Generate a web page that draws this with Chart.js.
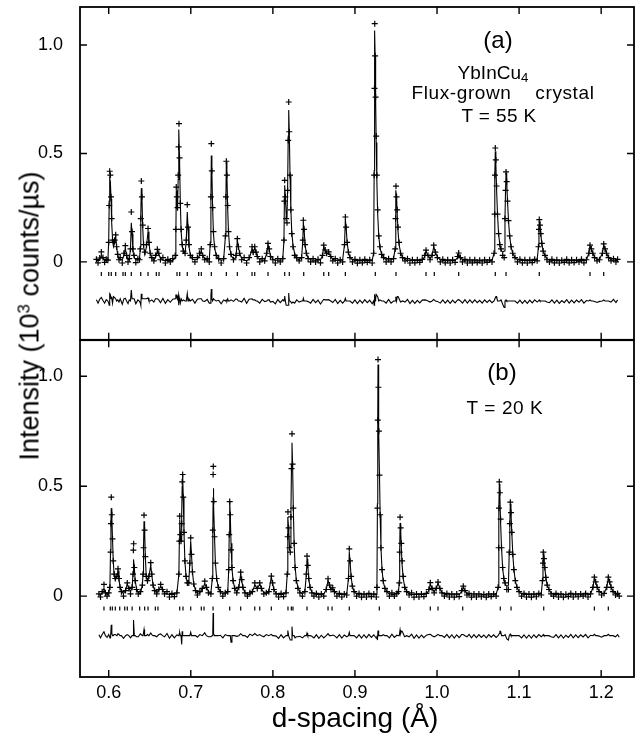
<!DOCTYPE html>
<html>
<head>
<meta charset="utf-8">
<script src="https://cdn.jsdelivr.net/npm/chart.js@4.4.0/dist/chart.umd.min.js"></script>
<style>
  body { margin: 0; background: #fff; }
  #wrap { position: relative; width: 644px; height: 737px; font-family: "Liberation Sans", Arial, sans-serif; color: #000; }
  canvas { position: absolute; left: 0; }
  .lbl { position: absolute; white-space: nowrap; line-height: 1; transform: translateX(-50%); }
  sup { font-size: 0.62em; vertical-align: 0.55em; line-height: 0; }
  sub { font-size: 0.7em; vertical-align: -0.25em; line-height: 0; }
  #ytitle { position: absolute; left: 30px; top: 316px; font-size: 27px; white-space: nowrap; line-height: 1;
            transform: translate(-50%, -50%) rotate(-90deg); }
  #xtitle { position: absolute; left: 355px; top: 704px; font-size: 28px; white-space: nowrap; line-height: 1;
            transform: translateX(-50%); }
</style>
</head>
<body>
<div id="wrap">
  <canvas id="chartA" width="644" height="345" style="top:0"></canvas>
  <canvas id="chartB" width="644" height="402" style="top:335px"></canvas>
  <div class="lbl" style="left:498px; top:28px; font-size:24px;">(a)</div>
  <div class="lbl" style="left:493px; top:63px; font-size:19px;">YbInCu<sub>4</sub></div>
  <div class="lbl" style="left:503px; top:83px; font-size:19px; letter-spacing:0.6px; word-spacing:18px;">Flux-grown crystal</div>
  <div class="lbl" style="left:499px; top:106px; font-size:19px; letter-spacing:0.4px;">T = 55 K</div>
  <div class="lbl" style="left:502px; top:360px; font-size:24px;">(b)</div>
  <div class="lbl" style="left:505px; top:398px; font-size:19px; letter-spacing:0.6px;">T = 20 K</div>
  <div id="ytitle">Intensity (10<sup>3</sup> counts/µs)</div>
  <div id="xtitle">d-spacing (Å)</div>
</div>
<script>
// axis ticks
const xTickVals = [0.6, 0.7, 0.8, 0.9, 1.0, 1.1, 1.2];
const xTickLabels = ['0.6', '0.7', '0.8', '0.9', '1.0', '1.1', '1.2'];
const yTickVals = [0, 0.5, 1.0];
const yTickLabels = ['0', '0.5', '1.0'];

// panel (a), T = 55 K : d-spacing, observed, calculated
const dA = [
  0.585, 0.587, 0.589, 0.591, 0.593, 0.595, 0.597,
  0.599, 0.600, 0.6006, 0.6012, 0.602, 0.6028, 0.6036, 0.6046, 0.6058,
  0.6072, 0.6085, 0.6096, 0.611, 0.6125, 0.614, 0.6165,
  0.6185, 0.6202, 0.6218, 0.6235, 0.625,
  0.6265, 0.6275, 0.6284, 0.6295, 0.631, 0.633, 0.6355, 0.6375,
  0.6385, 0.6391, 0.6397, 0.6405, 0.6414, 0.6425, 0.644, 0.646,
  0.6479, 0.649, 0.6505, 0.6525, 0.655, 0.657, 0.6592, 0.661, 0.663, 0.666, 0.669, 0.672, 0.675, 0.678, 0.681,
  0.6818, 0.6823, 0.683, 0.6838, 0.6846, 0.6851, 0.6856, 0.6863, 0.6872, 0.6882, 0.6895, 0.691,
  0.693, 0.6945, 0.6957, 0.6966, 0.6978, 0.6995, 0.702, 0.705, 0.708, 0.7105, 0.7128, 0.7145, 0.717, 0.72, 0.7225,
  0.7238, 0.7245, 0.725, 0.7257, 0.7266, 0.7276, 0.729, 0.731, 0.734, 0.737, 0.74,
  0.7422, 0.7428, 0.7433, 0.744, 0.7449, 0.7459, 0.7472, 0.749, 0.752, 0.755,
  0.7567, 0.758, 0.7595, 0.762, 0.765, 0.768, 0.771, 0.7746, 0.776, 0.7779, 0.7795, 0.781, 0.784, 0.787, 0.79,
  0.7925, 0.7941, 0.7955, 0.797, 0.8, 0.803, 0.806, 0.809, 0.812,
  0.8135, 0.814, 0.8144, 0.8152, 0.8162, 0.8172, 0.818, 0.8187, 0.8193, 0.82, 0.8209, 0.8219, 0.823, 0.8245, 0.8265, 0.829, 0.832, 0.835,
  0.8365, 0.8371, 0.838, 0.8392, 0.8408, 0.843, 0.846, 0.849, 0.852, 0.855, 0.858,
  0.8605, 0.862, 0.8638, 0.8655, 0.868, 0.8705, 0.873, 0.876, 0.879, 0.882, 0.885,
  0.8873, 0.8883, 0.8892, 0.8905, 0.892, 0.894, 0.897, 0.9, 0.903, 0.906, 0.909, 0.912, 0.915, 0.918, 0.921,
  0.9228, 0.9234, 0.9238, 0.9241, 0.9246, 0.9252, 0.9259, 0.9267, 0.9277, 0.929, 0.9305, 0.9325, 0.935, 0.938, 0.941, 0.944, 0.947,
  0.949, 0.9495, 0.95, 0.9507, 0.9515, 0.9525, 0.9538, 0.9555, 0.958, 0.961, 0.964, 0.967, 0.97, 0.973, 0.976, 0.979, 0.982,
  0.985, 0.9866, 0.989, 0.9915, 0.994, 0.996, 0.998, 1.0005, 1.004, 1.007, 1.01, 1.013, 1.016, 1.019, 1.022,
  1.025, 1.0264, 1.0285, 1.031, 1.034, 1.037, 1.04, 1.043, 1.046, 1.049, 1.052, 1.055, 1.058, 1.061, 1.064, 1.067,
  1.0695, 1.0702, 1.0706, 1.071, 1.0717, 1.0726, 1.0737, 1.075, 1.0765, 1.078, 1.08, 1.0818, 1.0828, 1.0835, 1.0841, 1.0849, 1.0859, 1.0871, 1.0885, 1.0902, 1.0922, 1.095, 1.098, 1.101, 1.104, 1.107, 1.11, 1.113, 1.116, 1.119, 1.122,
  1.1236, 1.1242, 1.1246, 1.1254, 1.1264, 1.1277, 1.1293, 1.1315, 1.134, 1.137, 1.14, 1.143, 1.146, 1.149, 1.152, 1.155, 1.158, 1.161, 1.164, 1.167, 1.17, 1.173, 1.176, 1.179, 1.182,
  1.185, 1.1864, 1.188, 1.1898, 1.192, 1.195, 1.198, 1.2015, 1.2031, 1.2047, 1.2065, 1.209, 1.212, 1.215, 1.218, 1.22
];
const obsA = [
  0.012, -0.004, 0.018, 0.046, 0.02, -0.002, 0.012,
  0.008, 0.09, 0.26, 0.418, 0.40, 0.30, 0.20, 0.10, 0.09,
  0.10, 0.125, 0.07, 0.035, 0.01, 0.02, -0.005,
  0.04, 0.075, 0.03, 0.0, 0.015,
  0.06, 0.23, 0.14, 0.06, 0.03, -0.003, 0.015, 0.01,
  0.06, 0.2, 0.373, 0.3, 0.17, 0.08, 0.045, 0.08,
  0.154, 0.09, 0.04, 0.02, 0.005, 0.03, 0.058, 0.04, 0.01, 0.02, -0.005, 0.012, 0.0, 0.015, 0.03,
  0.15, 0.345, 0.30, 0.25, 0.40, 0.53, 0.637, 0.48, 0.27, 0.15, 0.08, 0.05,
  0.04, 0.1, 0.264, 0.16, 0.08, 0.03, 0.02, 0.0, 0.02, 0.04, 0.06, 0.03, 0.01, 0.015, 0.0,
  0.08, 0.3, 0.545, 0.42, 0.25, 0.14, 0.07, 0.03, 0.015, -0.005, 0.015,
  0.12, 0.3, 0.464, 0.4, 0.26, 0.14, 0.07, 0.035, 0.01, 0.03,
  0.107, 0.07, 0.04, 0.01, 0.02, -0.005, 0.02, 0.07, 0.045, 0.07, 0.045, 0.025, 0.0, 0.015, 0.005,
  0.04, 0.085, 0.06, 0.025, 0.01, -0.005, 0.015, 0.0, 0.015,
  0.1, 0.28, 0.376, 0.3, 0.2, 0.18, 0.33, 0.56, 0.737, 0.6, 0.4, 0.24, 0.13, 0.07, 0.03, 0.02, 0.005, 0.02,
  0.1, 0.192, 0.15, 0.08, 0.04, 0.015, 0.0, 0.015, 0.0, 0.012, -0.004,
  0.03, 0.077, 0.055, 0.04, 0.046, 0.025, 0.005, 0.015, -0.005, 0.01, 0.0,
  0.08, 0.207, 0.16, 0.09, 0.045, 0.02, 0.0, 0.012, -0.006, 0.01, -0.004, 0.012, -0.002, 0.01, -0.005,
  0.04, 0.4, 0.8, 1.098, 0.95, 0.76, 0.58, 0.40, 0.24, 0.12, 0.07, 0.035, 0.02, 0.0, 0.015, 0.0, 0.015,
  0.06, 0.2, 0.349, 0.3, 0.24, 0.16, 0.09, 0.04, 0.02, 0.005, 0.015, -0.005, 0.01, -0.004, 0.01, -0.002, 0.012,
  0.03, 0.054, 0.03, 0.01, 0.03, 0.077, 0.045, 0.02, 0.0, 0.012, -0.004, 0.01, -0.005, 0.01, -0.002,
  0.025, 0.041, 0.02, 0.0, 0.012, -0.005, 0.01, -0.004, 0.01, -0.003, 0.008, -0.005, 0.01, -0.002, 0.01, 0.0,
  0.04, 0.22, 0.4, 0.525, 0.47, 0.35, 0.22, 0.13, 0.08, 0.06, 0.03, 0.02, 0.2, 0.33, 0.415, 0.37, 0.28, 0.19, 0.12, 0.07, 0.04, 0.02, 0.0, 0.012, -0.004, 0.01, -0.005, 0.01, -0.003, 0.012, 0.005,
  0.07, 0.15, 0.195, 0.17, 0.13, 0.085, 0.05, 0.03, 0.01, 0.0, 0.012, -0.004, 0.01, -0.005, 0.008, -0.002, 0.012, -0.004, 0.01, -0.003, 0.01, 0.0, 0.012, -0.004, 0.01,
  0.04, 0.077, 0.06, 0.04, 0.02, 0.005, 0.01, 0.04, 0.083, 0.06, 0.04, 0.02, 0.005, 0.015, 0.0, 0.012
];
const calcA = [
  0.006, 0.006, 0.01, 0.03, 0.018, 0.008, 0.006,
  0.008, 0.10, 0.28, 0.384, 0.37, 0.29, 0.18, 0.11, 0.07,
  0.085, 0.115, 0.07, 0.03, 0.015, 0.01, 0.01,
  0.03, 0.062, 0.03, 0.012, 0.01,
  0.06, 0.18, 0.13, 0.05, 0.02, 0.01, 0.01, 0.012,
  0.07, 0.22, 0.34, 0.29, 0.16, 0.07, 0.035, 0.07,
  0.14, 0.09, 0.04, 0.015, 0.01, 0.02, 0.048, 0.035, 0.018, 0.008, 0.006, 0.006, 0.006, 0.007, 0.02,
  0.12, 0.33, 0.27, 0.24, 0.38, 0.55, 0.61, 0.47, 0.28, 0.14, 0.08, 0.045,
  0.04, 0.1, 0.23, 0.16, 0.07, 0.03, 0.012, 0.01, 0.012, 0.03, 0.05, 0.03, 0.012, 0.008, 0.01,
  0.09, 0.28, 0.49, 0.41, 0.25, 0.13, 0.065, 0.03, 0.012, 0.008, 0.01,
  0.12, 0.3, 0.46, 0.4, 0.25, 0.14, 0.07, 0.03, 0.012, 0.02,
  0.1, 0.07, 0.04, 0.015, 0.008, 0.006, 0.012, 0.06, 0.04, 0.065, 0.045, 0.025, 0.01, 0.008, 0.008,
  0.04, 0.08, 0.055, 0.03, 0.012, 0.008, 0.008, 0.008, 0.01,
  0.1, 0.27, 0.353, 0.3, 0.22, 0.2, 0.35, 0.58, 0.7, 0.6, 0.4, 0.24, 0.14, 0.075, 0.04, 0.015, 0.01, 0.02,
  0.1, 0.18, 0.15, 0.08, 0.04, 0.018, 0.01, 0.008, 0.008, 0.008, 0.01,
  0.03, 0.07, 0.05, 0.035, 0.04, 0.025, 0.012, 0.008, 0.007, 0.007, 0.01,
  0.08, 0.195, 0.16, 0.09, 0.045, 0.02, 0.01, 0.007, 0.006, 0.006, 0.006, 0.006, 0.006, 0.006, 0.008,
  0.04, 0.42, 0.82, 1.067, 0.95, 0.75, 0.55, 0.37, 0.22, 0.12, 0.065, 0.035, 0.02, 0.01, 0.008, 0.01, 0.015,
  0.06, 0.2, 0.33, 0.3, 0.22, 0.14, 0.08, 0.045, 0.02, 0.01, 0.008, 0.007, 0.007, 0.007, 0.007, 0.007, 0.008,
  0.025, 0.05, 0.03, 0.015, 0.03, 0.07, 0.045, 0.022, 0.01, 0.007, 0.006, 0.006, 0.006, 0.006, 0.007,
  0.02, 0.035, 0.02, 0.01, 0.006, 0.005, 0.005, 0.005, 0.005, 0.005, 0.005, 0.005, 0.005, 0.005, 0.006, 0.008,
  0.04, 0.22, 0.4, 0.51, 0.45, 0.33, 0.22, 0.13, 0.08, 0.055, 0.045, 0.05, 0.2, 0.33, 0.41, 0.37, 0.28, 0.19, 0.12, 0.07, 0.04, 0.02, 0.01, 0.008, 0.007, 0.007, 0.006, 0.006, 0.006, 0.007, 0.01,
  0.07, 0.15, 0.19, 0.17, 0.13, 0.085, 0.05, 0.03, 0.015, 0.008, 0.007, 0.006, 0.006, 0.006, 0.006, 0.006, 0.006, 0.006, 0.006, 0.006, 0.006, 0.006, 0.006, 0.006, 0.008,
  0.04, 0.072, 0.06, 0.04, 0.022, 0.012, 0.012, 0.04, 0.078, 0.06, 0.04, 0.02, 0.01, 0.008, 0.007, 0.007
];
// reflection positions, panel (a)
const reflA = [0.591, 0.600, 0.6031, 0.6085, 0.6174, 0.6202, 0.6275, 0.639, 0.6479, 0.658, 0.6613, 0.6832, 0.6865,
  0.6957, 0.7096, 0.7128, 0.725, 0.7433, 0.7567, 0.7746, 0.7779, 0.7941, 0.8144, 0.82, 0.8376, 0.862, 0.868,
  0.8883, 0.9248, 0.95, 0.9866, 0.9967, 1.0264, 1.071, 1.0841, 1.1246, 1.1864, 1.2031];

// panel (b), T = 20 K : d-spacing, observed, calculated
const dB = [
  0.588, 0.590, 0.592, 0.5942, 0.596, 0.598, 0.600,
  0.6015, 0.6022, 0.6027, 0.6031, 0.6038, 0.6046, 0.6055, 0.6066, 0.608,
  0.61, 0.6113, 0.6125, 0.6138, 0.6155, 0.618, 0.6205, 0.6226, 0.6245, 0.6265, 0.6285,
  0.6296, 0.63, 0.6304, 0.6312, 0.6322, 0.6338, 0.636, 0.6385, 0.641,
  0.6418, 0.6424, 0.643, 0.6437, 0.6446, 0.6457, 0.6472, 0.649, 0.6512, 0.6525, 0.654, 0.656, 0.6585, 0.661, 0.6633, 0.6655, 0.668, 0.671, 0.674, 0.677, 0.68, 0.683,
  0.6855, 0.686, 0.6865, 0.6873, 0.6881, 0.6889, 0.6895, 0.6901, 0.6908, 0.6917, 0.6928, 0.6942, 0.6958, 0.6975, 0.6988, 0.6999, 0.7008, 0.702, 0.7036, 0.7058, 0.708,
  0.711, 0.714, 0.717, 0.719, 0.7215, 0.7245, 0.7262, 0.7268, 0.7272, 0.7274, 0.728, 0.7289, 0.73, 0.7315, 0.7335, 0.736, 0.739, 0.742, 0.745,
  0.7462, 0.7468, 0.7474, 0.7481, 0.749, 0.7501, 0.7515, 0.7535, 0.756, 0.7585, 0.7608, 0.762, 0.7635, 0.766, 0.769, 0.772, 0.775,
  0.778, 0.781, 0.784, 0.786, 0.789, 0.792, 0.795, 0.7981, 0.7996, 0.8012, 0.804, 0.807, 0.81, 0.813, 0.816,
  0.8175, 0.818, 0.8184, 0.8192, 0.8202, 0.8212, 0.822, 0.8227, 0.8233, 0.824, 0.8249, 0.8259, 0.827, 0.8285, 0.8305, 0.833, 0.836, 0.839,
  0.8408, 0.8416, 0.8425, 0.8437, 0.8453, 0.8475, 0.85, 0.853, 0.856, 0.859, 0.862, 0.865, 0.8672, 0.869, 0.8708, 0.8729, 0.875, 0.878, 0.881, 0.884, 0.887, 0.89,
  0.8921, 0.8931, 0.894, 0.8953, 0.8968, 0.899, 0.902, 0.905, 0.908, 0.911, 0.914, 0.917, 0.92, 0.923, 0.926,
  0.9268, 0.9274, 0.9278, 0.9281, 0.9286, 0.9292, 0.9299, 0.9307, 0.9317, 0.933, 0.9345, 0.9365, 0.939, 0.942, 0.945, 0.948, 0.951, 0.953,
  0.954, 0.9545, 0.955, 0.9557, 0.9565, 0.9575, 0.9588, 0.9605, 0.963, 0.966, 0.969, 0.972, 0.975, 0.978, 0.981, 0.984, 0.987, 0.99,
  0.9918, 0.994, 0.9965, 0.999, 1.0012, 1.0035, 1.006, 1.009, 1.012, 1.015, 1.018, 1.021, 1.024, 1.027, 1.03, 1.032, 1.034, 1.0365,
  1.039, 1.042, 1.045, 1.048, 1.051, 1.054, 1.057, 1.06, 1.063, 1.066, 1.069, 1.072,
  1.0744, 1.0751, 1.0755, 1.0759, 1.0766, 1.0775, 1.0786, 1.0799, 1.0814, 1.083, 1.085, 1.087, 1.088, 1.0887, 1.0893, 1.0901, 1.0911, 1.0923, 1.0937, 1.0954, 1.0974, 1.1, 1.103, 1.106, 1.109, 1.112, 1.115, 1.118, 1.121, 1.124, 1.127,
  1.1285, 1.1291, 1.1295, 1.1303, 1.1313, 1.1326, 1.1342, 1.1364, 1.139, 1.142, 1.145, 1.148, 1.151, 1.154, 1.157, 1.16, 1.163, 1.166, 1.169, 1.172, 1.175, 1.178, 1.181, 1.184, 1.187,
  1.19, 1.1917, 1.1933, 1.1951, 1.1975, 1.2005, 1.2035, 1.2068, 1.2087, 1.2103, 1.2121, 1.2145, 1.2175, 1.22, 1.222
];
const obsB = [
  0.01, -0.004, 0.02, 0.053, 0.015, 0.0, 0.015,
  0.04, 0.2, 0.33, 0.45, 0.37, 0.26, 0.16, 0.1, 0.08,
  0.09, 0.124, 0.08, 0.04, 0.02, 0.0, 0.025, 0.06, 0.035, 0.01, 0.04,
  0.1, 0.209, 0.238, 0.13, 0.07, 0.03, 0.01, 0.02, 0.05,
  0.1, 0.22, 0.368, 0.3, 0.18, 0.09, 0.07, 0.09, 0.152, 0.1, 0.05, 0.025, 0.01, 0.03, 0.053, 0.03, 0.01, 0.02, -0.004, 0.012, -0.002, 0.015,
  0.1, 0.25, 0.364, 0.28, 0.25, 0.33, 0.52, 0.553, 0.45, 0.29, 0.16, 0.09, 0.06, 0.06, 0.15, 0.265, 0.19, 0.11, 0.055, 0.025, 0.005,
  0.02, 0.035, 0.068, 0.04, 0.015, 0.01, 0.08, 0.3, 0.553, 0.59, 0.43, 0.27, 0.15, 0.08, 0.04, 0.02, 0.0, 0.015, 0.02,
  0.12, 0.28, 0.43, 0.37, 0.21, 0.13, 0.07, 0.035, 0.015, 0.04, 0.109, 0.075, 0.04, 0.015, 0.0, 0.015, 0.02,
  0.06, 0.035, 0.06, 0.035, 0.01, 0.015, 0.02, 0.091, 0.06, 0.03, 0.01, -0.004, 0.012, -0.002, 0.015,
  0.1, 0.27, 0.383, 0.31, 0.22, 0.2, 0.36, 0.58, 0.738, 0.6, 0.4, 0.24, 0.13, 0.07, 0.035, 0.015, 0.0, 0.02,
  0.1, 0.182, 0.14, 0.08, 0.04, 0.015, 0.0, 0.012, -0.004, 0.01, 0.0, 0.03, 0.079, 0.05, 0.03, 0.038, 0.02, 0.0, 0.012, -0.004, 0.01, 0.005,
  0.08, 0.215, 0.16, 0.09, 0.045, 0.02, 0.0, 0.012, -0.005, 0.01, -0.004, 0.012, -0.002, 0.01, -0.004,
  0.04, 0.4, 0.8, 1.076, 0.95, 0.75, 0.55, 0.37, 0.22, 0.12, 0.07, 0.035, 0.02, 0.0, 0.015, 0.0, 0.012, 0.02,
  0.06, 0.2, 0.359, 0.31, 0.24, 0.16, 0.09, 0.04, 0.02, 0.005, 0.015, -0.005, 0.01, -0.004, 0.01, -0.002, 0.012, 0.03,
  0.061, 0.035, 0.015, 0.035, 0.064, 0.035, 0.015, 0.0, 0.012, -0.004, 0.01, -0.005, 0.01, -0.002, 0.025, 0.045, 0.025, 0.005,
  0.012, -0.005, 0.01, -0.004, 0.01, -0.003, 0.008, -0.005, 0.01, -0.002, 0.01, 0.0,
  0.04, 0.22, 0.4, 0.52, 0.47, 0.35, 0.22, 0.13, 0.08, 0.06, 0.03, 0.03, 0.2, 0.33, 0.427, 0.38, 0.29, 0.19, 0.12, 0.07, 0.04, 0.02, 0.0, 0.012, -0.004, 0.01, -0.005, 0.01, -0.003, 0.012, 0.005,
  0.07, 0.15, 0.2, 0.17, 0.13, 0.085, 0.05, 0.03, 0.01, 0.0, 0.012, -0.004, 0.01, -0.005, 0.008, -0.002, 0.012, -0.004, 0.01, -0.003, 0.01, 0.0, 0.012, -0.004, 0.01,
  0.04, 0.086, 0.065, 0.04, 0.02, 0.005, 0.012, 0.04, 0.086, 0.065, 0.04, 0.02, 0.005, 0.012, 0.0
];
const calcB = [
  0.006, 0.006, 0.015, 0.035, 0.015, 0.008, 0.01,
  0.05, 0.21, 0.34, 0.4, 0.36, 0.26, 0.16, 0.095, 0.075,
  0.09, 0.115, 0.075, 0.04, 0.02, 0.012, 0.025, 0.055, 0.035, 0.02, 0.04,
  0.1, 0.15, 0.167, 0.13, 0.07, 0.035, 0.015, 0.012, 0.05,
  0.1, 0.22, 0.34, 0.3, 0.18, 0.09, 0.065, 0.09, 0.14, 0.095, 0.05, 0.025, 0.015, 0.025, 0.045, 0.03, 0.015, 0.01, 0.008, 0.008, 0.008, 0.012,
  0.1, 0.24, 0.35, 0.28, 0.25, 0.37, 0.5, 0.553, 0.45, 0.29, 0.16, 0.09, 0.06, 0.06, 0.15, 0.25, 0.19, 0.11, 0.055, 0.025, 0.012,
  0.015, 0.035, 0.055, 0.04, 0.02, 0.015, 0.08, 0.28, 0.45, 0.49, 0.42, 0.27, 0.15, 0.08, 0.04, 0.018, 0.01, 0.01, 0.02,
  0.12, 0.28, 0.43, 0.37, 0.24, 0.13, 0.07, 0.035, 0.018, 0.04, 0.1, 0.07, 0.04, 0.015, 0.008, 0.008, 0.02,
  0.05, 0.035, 0.055, 0.035, 0.015, 0.01, 0.02, 0.085, 0.06, 0.03, 0.012, 0.008, 0.008, 0.008, 0.015,
  0.1, 0.26, 0.36, 0.31, 0.23, 0.22, 0.38, 0.6, 0.697, 0.6, 0.4, 0.24, 0.14, 0.075, 0.04, 0.018, 0.01, 0.02,
  0.1, 0.17, 0.14, 0.08, 0.04, 0.018, 0.01, 0.008, 0.008, 0.008, 0.01, 0.03, 0.07, 0.05, 0.03, 0.035, 0.02, 0.01, 0.007, 0.007, 0.007, 0.01,
  0.08, 0.2, 0.16, 0.09, 0.045, 0.02, 0.01, 0.007, 0.006, 0.006, 0.006, 0.006, 0.006, 0.006, 0.008,
  0.04, 0.42, 0.82, 1.053, 0.95, 0.75, 0.55, 0.37, 0.22, 0.12, 0.065, 0.035, 0.02, 0.01, 0.008, 0.008, 0.01, 0.02,
  0.06, 0.2, 0.333, 0.3, 0.22, 0.14, 0.08, 0.045, 0.02, 0.01, 0.008, 0.007, 0.007, 0.007, 0.007, 0.007, 0.01, 0.025,
  0.055, 0.035, 0.02, 0.035, 0.058, 0.035, 0.015, 0.008, 0.006, 0.006, 0.006, 0.006, 0.006, 0.007, 0.02, 0.04, 0.025, 0.01,
  0.006, 0.005, 0.005, 0.005, 0.005, 0.005, 0.005, 0.005, 0.005, 0.005, 0.006, 0.008,
  0.04, 0.22, 0.4, 0.51, 0.45, 0.33, 0.22, 0.13, 0.08, 0.055, 0.045, 0.05, 0.2, 0.33, 0.42, 0.38, 0.29, 0.19, 0.12, 0.07, 0.04, 0.02, 0.01, 0.008, 0.007, 0.007, 0.006, 0.006, 0.006, 0.007, 0.01,
  0.07, 0.15, 0.195, 0.17, 0.13, 0.085, 0.05, 0.03, 0.015, 0.008, 0.007, 0.006, 0.006, 0.006, 0.006, 0.006, 0.006, 0.006, 0.006, 0.006, 0.006, 0.006, 0.006, 0.006, 0.008,
  0.04, 0.08, 0.065, 0.04, 0.022, 0.012, 0.012, 0.04, 0.08, 0.065, 0.04, 0.02, 0.01, 0.007, 0.007
];
// reflection positions, panel (b)
const reflB = [0.5942, 0.6019, 0.6044, 0.608, 0.6134, 0.6195, 0.6226, 0.6285, 0.6377, 0.6438, 0.6479, 0.6568, 0.66,
  0.6865, 0.6905, 0.6999, 0.7128, 0.7161, 0.7271, 0.7474, 0.7608, 0.7779, 0.784, 0.7981, 0.8184, 0.8225, 0.8245,
  0.8416, 0.8672, 0.8721, 0.8931, 0.9297, 0.955, 0.9918, 1.0012, 1.0313, 1.0771, 1.0902, 1.13, 1.1917, 1.2087];

// where the tick row and the difference curve sit below zero
const TICK_ROW = -0.056;
const DIFF_ROW = -0.18;

[[dA, obsA, calcA, 'a'], [dB, obsB, calcB, 'b']].forEach(([d, o, c, name]) => {
  if (d.length !== o.length || d.length !== c.length)
    throw new Error('length mismatch ' + name + ': ' + d.length + ' ' + o.length + ' ' + c.length);
  for (let i = 1; i < d.length; i++)
    if (d[i] <= d[i - 1]) throw new Error('not increasing ' + name + ' at ' + i + ' ' + d[i]);
});

const FONT = '"Liberation Sans", Arial, sans-serif';

const frame = {
  id: 'frame',
  afterDraw(chart) {
    const { ctx, chartArea: a, scales } = chart;
    ctx.save();
    ctx.strokeStyle = '#000';
    ctx.lineWidth = 1.8;
    ctx.strokeRect(a.left, a.top, a.width, a.height);
    ctx.lineWidth = 1.4;
    ctx.beginPath();
    xTickVals.forEach(v => {
      const px = scales.x.getPixelForValue(v);
      ctx.moveTo(px, a.top); ctx.lineTo(px, a.top + 7);
      ctx.moveTo(px, a.bottom); ctx.lineTo(px, a.bottom - 7);
    });
    yTickVals.forEach(v => {
      const py = scales.y.getPixelForValue(v);
      ctx.moveTo(a.left, py); ctx.lineTo(a.left + 7, py);
      ctx.moveTo(a.right, py); ctx.lineTo(a.right - 7, py);
    });
    ctx.stroke();
    ctx.restore();
  }
};

function makePanel(id, d, obs, calc, refl, yMin, yMax, showX, pad) {
  const obsPts = d.map((v, i) => ({ x: v, y: obs[i] }));
  const calcPts = d.map((v, i) => ({ x: v, y: calc[i] }));
  const diffPts = d.map((v, i) => ({ x: v, y: DIFF_ROW + obs[i] - calc[i] }));
  const reflPts = refl.map(v => ({ x: v, y: TICK_ROW }));

  return new Chart(document.getElementById(id), {
    type: 'scatter',
    data: {
      datasets: [
        { data: calcPts, showLine: true, borderColor: '#000', borderWidth: 1.1, pointRadius: 0, tension: 0 },
        { data: obsPts, pointStyle: 'cross', pointRadius: 3, borderColor: '#000', borderWidth: 1.2 },
        { data: diffPts, showLine: true, borderColor: '#000', borderWidth: 1.1, pointRadius: 0, tension: 0 },
        { data: reflPts, pointStyle: 'line', pointRotation: 90, pointRadius: 2, borderColor: '#000', borderWidth: 1.2 }
      ]
    },
    options: {
      responsive: false,
      animation: false,
      events: [],
      layout: { padding: pad },
      plugins: { legend: { display: false }, tooltip: { enabled: false } },
      scales: {
        x: {
          type: 'linear', min: 0.565, max: 1.24, display: showX,
          grid: { display: false, drawTicks: false }, border: { display: false },
          afterBuildTicks: s => { s.ticks = xTickVals.map(v => ({ value: v })); },
          afterFit: s => {
            s.height = showX ? 60 : 0;
            s.paddingLeft = 0; s.paddingRight = 0;
          },
          ticks: {
            padding: 5, color: '#000', font: { family: FONT, size: 18 },
            maxRotation: 0, autoSkip: false,
            callback: v => xTickLabels[xTickVals.indexOf(v)] ?? ''
          }
        },
        y: {
          type: 'linear', min: yMin, max: yMax,
          grid: { display: false, drawTicks: false }, border: { display: false },
          afterBuildTicks: s => { s.ticks = yTickVals.map(v => ({ value: v })); },
          afterFit: s => {
            s.width = 80;
            s.paddingTop = 0; s.paddingBottom = 0;
          },
          ticks: {
            padding: 17, color: '#000', font: { family: FONT, size: 18 },
            callback: v => yTickLabels[yTickVals.indexOf(v)] ?? ''
          }
        }
      }
    },
    plugins: [frame]
  });
}

makePanel('chartA', dA, obsA, calcA, reflA, -0.359, 1.175, false, { left: 0, right: 10, top: 7, bottom: 5 });
makePanel('chartB', dB, obsB, calcB, reflB, -0.368, 1.164, true, { left: 0, right: 10, top: 5, bottom: 0 });
</script>
</body>
</html>
